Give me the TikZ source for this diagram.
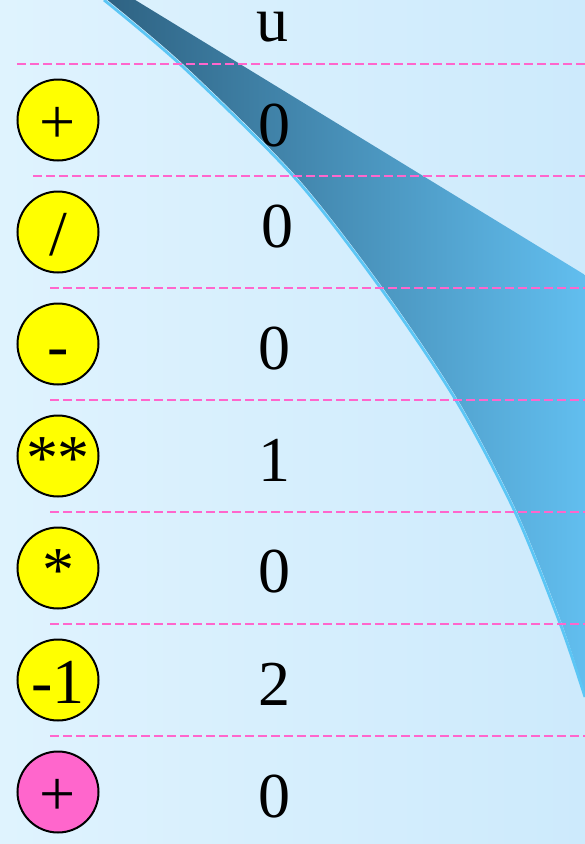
\documentclass[tikz,border=0pt]{standalone}
\usepackage{fontspec}
\setmainfont{Liberation Serif}
\usepackage{xcolor}
\usepackage{tikz}
\usetikzlibrary{positioning,calc}

\definecolor{bgleft}{HTML}{DFF3FE}
\definecolor{bgright}{HTML}{CDEAFC}
\definecolor{bandleft}{HTML}{2E6282}
\definecolor{bandright}{HTML}{62BFF0}
\definecolor{bandrim}{HTML}{5CC6F5}
\definecolor{rowline}{HTML}{FF66CC}
\definecolor{opyellow}{HTML}{FFFF00}
\definecolor{oppink}{HTML}{FF66CC}

\begin{document}
\begin{tikzpicture}[x=1pt,y=-1pt,
      opnode/.style={circle,draw=black,fill=opyellow,line width=2pt,minimum size=81pt,inner sep=0pt,
        text height=47pt,text depth=0pt,font=\fontsize{64}{70}\selectfont},
      lastop/.style={opnode,fill=oppink},
      valnode/.style={anchor=base,inner sep=0pt,font=\fontsize{64}{70}\selectfont},
      rowsep/.style={draw=rowline,line width=2.2pt,dash pattern=on 9pt off 4pt}]
    \useasboundingbox (0,0) rectangle (585,844);
    \clip (0,0) rectangle (585,844);
    \shade[left color=bgleft,right color=bgright] (0,0) rectangle (585,844);
    % the band
    \coordinate (T1) at (132,-2);
    \coordinate (T2) at (590,278);
    \coordinate (B1) at (590,710);
    \shade[left color=bandleft,right color=bandright]
      (T1) -- (T2) -- (B1)
      -- plot[smooth] coordinates {(585,695) (562,624) (517,512) (458,400) (383,288) (296,176) (183,64) (105,-2)}
      -- cycle;
    \draw[bandrim,line width=2.8pt]
      plot[smooth] coordinates {(585,697) (561,626) (516,514) (457,402) (382,290) (295,178) (182,66) (104,0)};
    % row separators
    \foreach \y/\x in {64/17,176/33,288/50,400/50,512/50,624/50,736/50} {
      \coordinate (L\y) at (\x,\y);
      \coordinate (R\y) at (590,\y);
      \draw[rowsep] (L\y) -- (R\y);
    }
    % operators
    \foreach \i/\op in {0/{+},1/{/},2/{-},3/{**},4/{*},5/{-1}} {
      \node[opnode] (op\i) at (58,{120+112*\i}) {\op};
    }
    \node[lastop] (op6) at (58,792) {+};
    % values
    \node[valnode] (head) at (272,41) {u};
    \foreach \i/\v/\x/\b in {0/0/274/146,1/0/277/247,2/0/274/369,3/1/274/481,4/0/274/592,5/2/274/705,6/0/274/817} {
      \node[valnode] (val\i) at (\x,\b) {\v};
    }
\end{tikzpicture}
\end{document}
